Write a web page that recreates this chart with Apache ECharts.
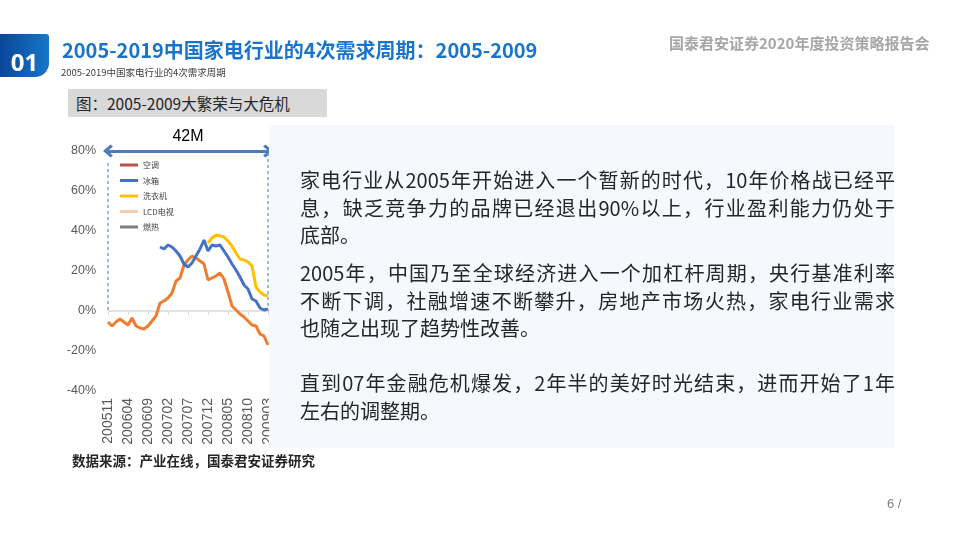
<!DOCTYPE html>
<html>
<head>
<meta charset="utf-8">
<script src="https://cdn.jsdelivr.net/npm/echarts@6/dist/echarts.min.js"></script>
<style>
  html, body { margin: 0; padding: 0; background: #fff; }
  #wrap { position: relative; width: 959px; height: 539px; overflow: hidden; font-family: "Noto Sans CJK SC", "Liberation Sans", sans-serif; }
  #chart { position: absolute; left: 0; top: 0; width: 959px; height: 539px; }
  .abs { position: absolute; white-space: nowrap; }
  #badge { left: 0; top: 34px; width: 49px; height: 43px; background: linear-gradient(90deg, #0b4699 0%, #1677c9 100%); border-radius: 0 3px 14px 0; color: #fff; font-family: "Open Sans", "Liberation Sans", sans-serif; font-weight: bold; font-size: 24px; line-height: 43px; text-align: center; padding-top: 6px; box-sizing: border-box; }
  #title { left: 62px; top: 37px; font-size: 20px; font-weight: bold; color: #1a74c9; line-height: 26px; }
  #subtitle { left: 61px; top: 66px; font-size: 9.5px; color: #404040; line-height: 12px; }
  #brand { left: 669px; top: 33px; font-size: 15px; font-weight: bold; color: #a6a6a6; line-height: 20px; }
  #caption { left: 68px; top: 89px; width: 259px; height: 28px; background: #d9d9d9; }
  #caption span { position: absolute; left: 8px; top: 3px; font-size: 15.5px; color: #262626; line-height: 22px; }
  #box { left: 269px; top: 125px; width: 625px; height: 323px; background: #f5f9fd; z-index: 5; }
  .para { position: absolute; left: 31px; width: 595px; font-size: 20px; color: #262626; line-height: 27.5px; }
  .full { text-align: justify; text-align-last: justify; white-space: nowrap; }
  #source { left: 72px; top: 451px; font-size: 13.5px; font-weight: bold; color: #262626; line-height: 18px; }
  #page { left: 887px; top: 496px; font-size: 13px; color: #7f7f7f; font-family: "Liberation Sans", sans-serif; }
</style>
</head>
<body>
<div id="wrap">
  <div id="chart"></div>
  <div class="abs" id="badge">01</div>
  <div class="abs" id="title">2005-2019中国家电行业的4次需求周期：2005-2009</div>
  <div class="abs" id="subtitle">2005-2019中国家电行业的4次需求周期</div>
  <div class="abs" id="brand">国泰君安证券2020年度投资策略报告会</div>
  <div class="abs" id="caption"><span>图：2005-2009大繁荣与大危机</span></div>
  <div class="abs" id="box">
    <div class="para" style="top:41px;">
      <div class="full">家电行业从2005年开始进入一个暂新的时代，10年价格战已经平</div>
      <div class="full">息，缺乏竞争力的品牌已经退出90%以上，行业盈利能力仍处于</div>
      <div>底部。</div>
    </div>
    <div class="para" style="top:134px;">
      <div class="full">2005年，中国乃至全球经济进入一个加杠杆周期，央行基准利率</div>
      <div class="full">不断下调，社融增速不断攀升，房地产市场火热，家电行业需求</div>
      <div>也随之出现了趋势性改善。</div>
    </div>
    <div class="para" style="top:244px;">
      <div class="full">直到07年金融危机爆发，2年半的美好时光结束，进而开始了1年</div>
      <div>左右的调整期。</div>
    </div>
  </div>
  <div class="abs" id="source">数据来源：产业在线，国泰君安证券研究</div>
  <div class="abs" id="page">6 /</div>
</div>
<script>
// ---- data ----
const categories = ['200511','200512','200601','200602','200603','200604','200605','200606','200607','200608','200609','200610','200611','200612','200701','200702','200703','200704','200705','200706','200707','200708','200709','200710','200711','200712','200801','200802','200803','200804','200805','200806','200807','200808','200809','200810','200811','200812','200901','200902','200903'];
const seriesNames = ['空调','冰箱','洗衣机','LCD电视','燃热'];
const kongtiao = [-5.5,-7.5,-5.5,-4,-5.5,-7,-3.5,-7.5,-8.5,-9,-7.5,-5,-2.5,4,5,6.5,9,15,16.5,23,25.5,27.5,26.5,25,23.5,15.5,16.5,17.5,19,16,9.5,2.5,0.5,-1.5,-3,-5,-7,-7.5,-11.5,-12.5,-17];
const bingxiang = [null,null,null,null,null,null,null,null,null,null,null,null,null,32,31,33,32,30,27.5,23.5,22,24,27.5,31,35.5,30,33,32.5,33,30,27,23.5,20.5,17,13,11,6,5,1.5,0.5,1];
const xiyiji = [null,null,null,null,null,null,null,null,null,null,null,null,null,null,null,null,null,null,null,null,null,null,null,null,null,34,36.5,38,37.5,37,35,32.5,29,26,25.5,24.5,22.5,12,9.5,8,7.5];
const lcd = [];
const ranre = [];
const yTicks = { min: -40, max: 80, interval: 20 };
const spanLabel = '42M';
const spanStart = '200511';
const spanEnd = '200903';
const spanTop = 80;
const dashTopLeft = 74;

const lineColors = ['#ED7D31', '#4472C4', '#FFC000', '#F4B183', '#7F7F7F'];
const legendColors = ['#C0504D', '#4472C4', '#FFC000', '#F8CBAD', '#7F7F7F'];

const chart = echarts.init(document.getElementById('chart'), null, { renderer: 'canvas' });
const dataSets = [kongtiao, bingxiang, xiyiji, lcd, ranre];

const series = seriesNames.map((n, i) => ({
  name: n,
  type: 'line',
  data: dataSets[i],
  showSymbol: false,
  symbol: 'none',
  connectNulls: false,
  clip: false,
  lineStyle: { color: lineColors[i], width: 3 },
  itemStyle: { color: legendColors[i] },
  z: 3 + i
}));

series[0].markLine = {
  silent: true,
  animation: false,
  symbol: 'none',
  data: [
    [
      { coord: [spanStart, spanTop], symbol: 'path://M10,0 L20,9 L17,12 L10,5.5 L3,12 L0,9 Z', symbolSize: [13, 10],
        lineStyle: { color: '#4A7EBB', width: 3, type: 'solid' },
        label: { show: true, formatter: spanLabel, position: 'insideMiddleTop', distance: 6, color: '#000', fontSize: 16, fontFamily: 'Liberation Sans' } },
      { coord: [spanEnd, spanTop], symbol: 'path://M10,0 L20,9 L17,12 L10,5.5 L3,12 L0,9 Z', symbolSize: [13, 10] }
    ],
    [
      { coord: [spanStart, dashTopLeft], lineStyle: { color: '#7FA3D6', width: 1.5, type: [3, 3] }, label: { show: false } },
      { coord: [spanStart, 0] }
    ],
    [
      { coord: [spanEnd, spanTop - 1], lineStyle: { color: '#7FA3D6', width: 1.5, type: [3, 3] }, label: { show: false } },
      { coord: [spanEnd, 0] }
    ]
  ]
};

chart.setOption({
  animation: false,
  grid: { left: 108, top: 151, width: 160, height: 240, containLabel: false },
  legend: {
    orient: 'vertical',
    left: 120,
    top: 161,
    padding: 0,
    itemGap: 7.5,
    itemWidth: 18,
    itemHeight: 3,
    icon: 'rect',
    textStyle: { fontSize: 8, color: '#404040', fontFamily: 'Noto Sans CJK SC' },
    data: seriesNames.map((n, i) => ({ name: n, icon: 'rect', itemStyle: { color: legendColors[i] } }))
  },
  xAxis: [
    {
      type: 'category',
      data: categories,
      boundaryGap: false,
      position: 'bottom',
      axisLine: { show: false, onZero: false },
      axisTick: { show: false },
      axisLabel: { interval: 4, rotate: 90, color: '#595959', fontSize: 14, fontFamily: 'Liberation Sans', margin: 7 },
      splitLine: { show: false }
    },
    {
      type: 'category',
      data: categories,
      boundaryGap: false,
      position: 'bottom',
      axisLine: { show: true, onZero: true, lineStyle: { color: '#D9D9D9', width: 1.5 } },
      axisTick: { show: true, interval: 4, length: 4, lineStyle: { color: '#D9D9D9', width: 1 } },
      axisLabel: { show: false },
      splitLine: { show: false }
    }
  ],
  yAxis: {
    type: 'value',
    min: yTicks.min,
    max: yTicks.max,
    interval: yTicks.interval,
    axisLine: { show: false },
    axisTick: { show: false },
    splitLine: { show: false },
    axisLabel: { formatter: '{value}%', color: '#595959', fontSize: 12.5, fontFamily: 'Liberation Sans', margin: 12 }
  },
  series: series
});
</script>
</body>
</html>
